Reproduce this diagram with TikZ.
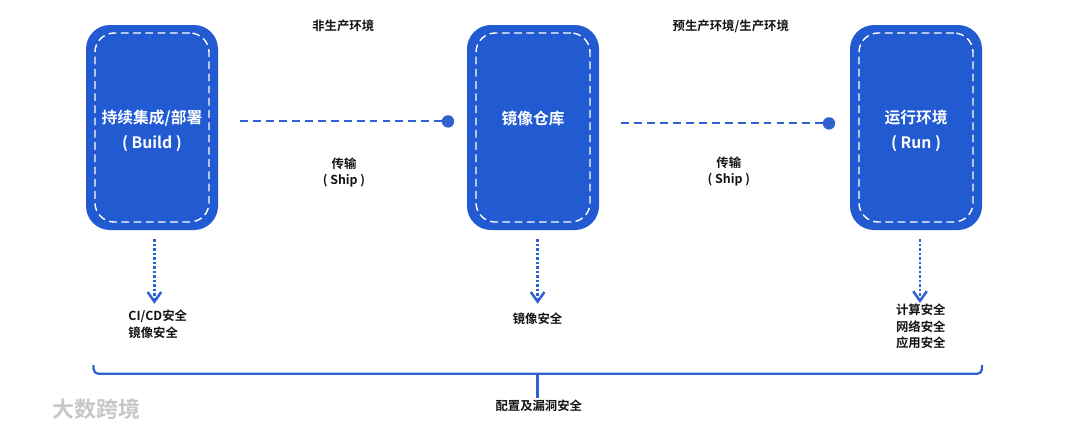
\documentclass[tikz,border=0pt]{standalone}
\usepackage{fontspec}
\usepackage{xcolor}
\usetikzlibrary{arrows.meta,positioning,calc}
\setmainfont{Noto Sans CJK SC}[BoldFont={Noto Sans CJK SC Bold}]
\definecolor{Ink}{HTML}{141414}
\definecolor{Blue}{HTML}{225AD2}
\definecolor{Line}{HTML}{2F62CE}
\newcommand{\envbox}[4]{
  \node[envout] (#1) at (#2,7.5375) {};
  \node[envin] (#1in) at (#1.center) {};
  \node[envtext] (#1txt) at ([yshift=-0.075cm]#1.center) {#3\\#4};
}

\begin{document}
\begin{tikzpicture}[
    envout/.style={fill=Blue, rounded corners=0.6cm, minimum width=3.3cm, minimum height=5.125cm},
    envin/.style={draw=white, line width=1pt, dash pattern=on 5.5pt off 3.2pt, rounded corners=0.48cm, minimum width=2.85cm, minimum height=4.725cm},
    envtext/.style={text=white, font=\bfseries\fontsize{11.2}{17.8}\selectfont, align=center, inner sep=0pt},
    lab/.style={text=Ink, font=\bfseries\fontsize{8.8}{11.6}\selectfont, align=center, inner sep=1pt},
    enddot/.style={circle, fill=Line, inner sep=0pt, minimum size=0.31cm},
    ship/.style={draw=Line, line width=1.4pt, dash pattern=on 5.6pt off 3.6pt, shorten <=0.55cm},
    secarr/.style={draw=Line, line width=1.9pt, dash pattern=on 1.9pt off 1.3pt, shorten <=0.22cm, -{Straight Barb[length=2.4mm,width=3.4mm,line width=1.8pt]}},
    brace/.style={draw=Line, line width=1.6pt, rounded corners=0.12cm}
  ]
    \useasboundingbox (0,0) rectangle (27,10.725);
    \envbox{build}{3.8}{持续集成/部署}{( Build )}
    \envbox{repo}{13.325}{镜像仓库}{}
    \envbox{run}{22.9}{运行环境}{( Run )}
    % transport between the stages
    \node[enddot] (dota) at (11.2,7.69) {};
    \node[enddot] (dotb) at (20.725,7.64) {};
    \draw[ship] (build.east |- dota) -- (dota);
    \draw[ship] (repo.east |- dotb) -- (dotb);
    \node[lab] (nonprod) at (8.58,10.07) {非生产环境};
    \node[lab] (prod) at (18.27,10.07) {预生产环境/生产环境};
    \node[lab] (shipa) at (8.6,6.41) {传输\\( Ship )};
    \node[lab] (shipb) at (18.22,6.43) {传输\\( Ship )};
    % security per stage
    \coordinate (tipa) at (3.86,3.13);
    \coordinate (tipb) at (13.44,3.13);
    \coordinate (tipc) at (23,3.15);
    \draw[secarr] (build.south -| tipa) -- (tipa);
    \draw[secarr] (repo.south -| tipb) -- (tipb);
    \draw[secarr] (run.south -| tipc) -- (tipc);
    \node[lab, align=left, anchor=west] (seca) at (3.17,2.62) {CI/CD安全\\镜像安全};
    \node[lab] (secb) at (13.44,2.75) {镜像安全};
    \node[lab] (secc) at (23.02,2.56) {计算安全\\网络安全\\应用安全};
    % bracket along the bottom
    \coordinate (brl) at (2.34,1.6);
    \coordinate (brr) at (24.55,1.6);
    \coordinate (brm) at (13.44,1.38);
    \draw[brace] (brl) -- (brl |- brm) -- (brr |- brm) -- (brr);
    \node[lab] (vuln) at (13.47,0.58) {配置及漏洞安全};
    \draw[brace] (brm) -- (vuln.north -| brm);
    \node[text=black!22, font=\bfseries\fontsize{15.6}{18}\selectfont, inner sep=0pt] (mark) at (2.42,0.5) {大数跨境};
\end{tikzpicture}
\end{document}
